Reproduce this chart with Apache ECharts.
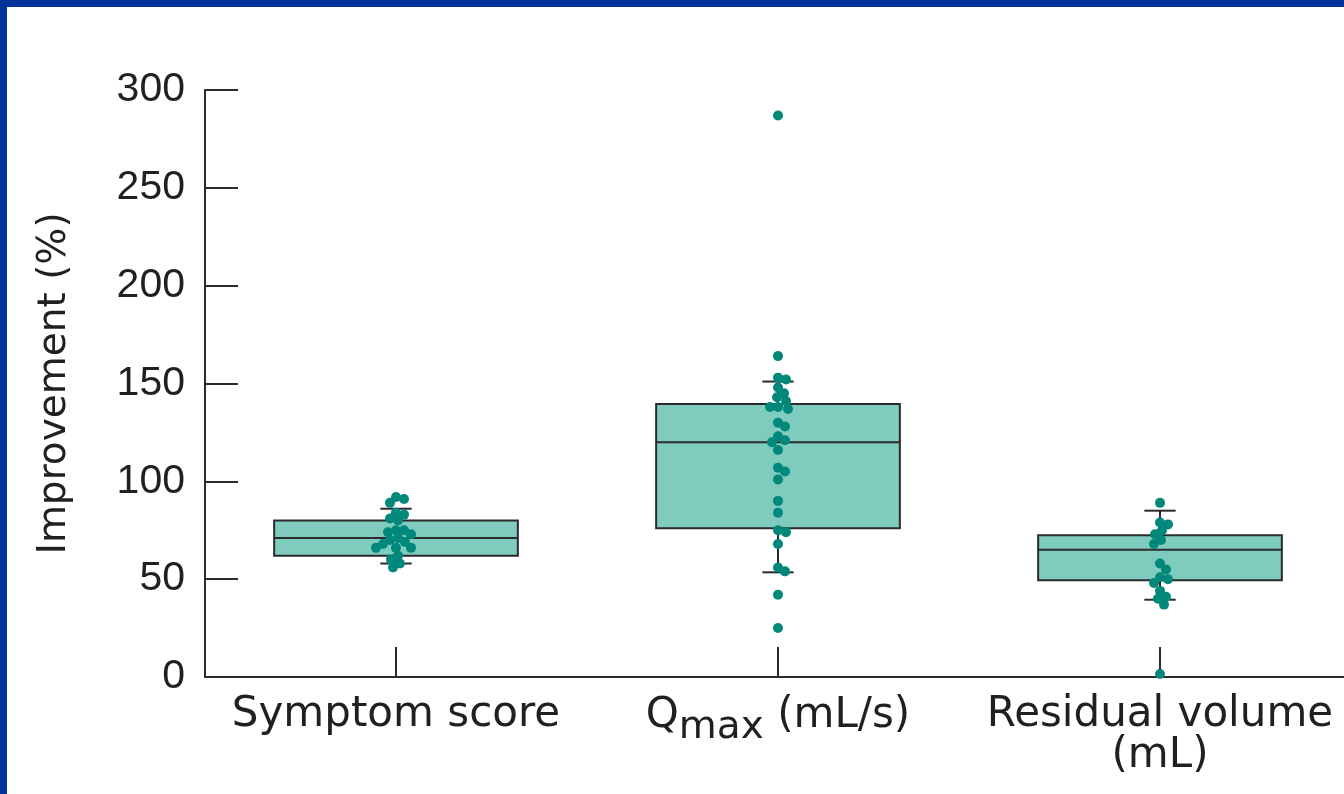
<!DOCTYPE html>
<html>
<head>
<meta charset="utf-8">
<title>Improvement (%)</title>
<script src="https://cdn.jsdelivr.net/npm/echarts@6/dist/echarts.min.js"></script>
<style>
  html, body { margin: 0; padding: 0; background: #ffffff; overflow: hidden; }
  /* the plot runs slightly past the right edge of the window */
  #chart { width: 1351px; height: 794px; }
</style>
</head>
<body>
<div id="chart"></div>
<script>
// Outcome categories along the x axis
const categories = ['Symptom score', 'Qmax (mL/s)', 'Residual volume\n(mL)'];

// Y axis ticks
const yTicks = [0, 50, 100, 150, 200, 250, 300];

// Box summaries: [lower whisker, Q1, median, Q3, upper whisker]
const symptomBox = [58, 62, 71, 80, 86];
const qmaxBox = [53.5, 76, 120, 139.5, 151];
const residualBox = [39.5, 49.5, 65, 72.5, 85];

// Individual patient improvements (%)
const symptomPoints = [92, 91, 89, 84, 83, 81, 80, 75, 75, 74, 73, 71, 70, 69, 68, 66, 66, 66, 62, 60, 58, 56];
const qmaxPoints = [287, 164, 153, 152, 148, 145, 143, 141, 138, 138, 137, 130, 128, 123, 121, 120, 116, 107, 105, 101, 90, 84, 75, 74, 68, 56, 54, 42, 25];
const residualPoints = [89, 79, 78, 75, 73, 70, 68, 58, 55, 51, 50, 48, 44, 41, 40, 37, 1.5];

const boxes = [symptomBox, qmaxBox, residualBox];
const pointGroups = [symptomPoints, qmaxPoints, residualPoints];

const INK = '#2b2b2b';
const TEXT = '#231f20';
const BOX_FILL = '#7fcbbe';
const DOT = '#00897b';
const FRAME = '#003399';

const boxData = boxes.map((b, i) => [i].concat(b));
const dotData = [];
pointGroups.forEach((g, gi) => g.forEach((v, k) => dotData.push([gi, v, k])));

// Simple beeswarm: push overlapping dots sideways
function swarm(ys, d, step) {
  const placed = [];
  return ys.map(y => {
    let off = 0;
    outer:
    for (let k = 0; k < 200; k++) {
      const cands = k === 0 ? [0] : [k * step, -k * step];
      for (const c of cands) {
        if (placed.every(p => Math.hypot(p.x - c, p.y - y) >= d)) { off = c; break outer; }
      }
    }
    placed.push({ x: off, y: y });
    return off;
  });
}

const chart = echarts.init(document.getElementById('chart'), null, { renderer: 'canvas' });

function renderBox(params, api) {
  const cat = api.value(0);
  const band = api.size([1, 0])[0];
  const half = band * 0.319;
  const cap = band * 0.041;
  const lo = api.coord([cat, api.value(1)]);
  const q1 = api.coord([cat, api.value(2)]);
  const md = api.coord([cat, api.value(3)]);
  const q3 = api.coord([cat, api.value(4)]);
  const hi = api.coord([cat, api.value(5)]);
  const x = md[0];
  const ls = { stroke: INK, lineWidth: 2, fill: null };
  return {
    type: 'group',
    children: [
      { type: 'line', shape: { x1: x, y1: q3[1], x2: x, y2: hi[1] }, style: ls },
      { type: 'line', shape: { x1: x - cap, y1: hi[1], x2: x + cap, y2: hi[1] }, style: ls },
      { type: 'line', shape: { x1: x, y1: q1[1], x2: x, y2: lo[1] }, style: ls },
      { type: 'line', shape: { x1: x - cap, y1: lo[1], x2: x + cap, y2: lo[1] }, style: ls },
      { type: 'rect', shape: { x: x - half, y: q3[1], width: half * 2, height: q1[1] - q3[1] },
        style: { fill: BOX_FILL, stroke: INK, lineWidth: 2 } },
      { type: 'line', shape: { x1: x - half, y1: md[1], x2: x + half, y2: md[1] }, style: ls }
    ]
  };
}

function renderDot(params, api) {
  const cat = api.value(0);
  const k = api.value(2);
  const group = pointGroups[cat];
  const ys = group.map(v => api.coord([cat, v])[1]);
  const offs = swarm(ys, 8, 1);
  const c = api.coord([cat, api.value(1)]);
  return {
    type: 'circle',
    shape: { cx: c[0] + offs[k], cy: c[1], r: 5 },
    style: { fill: DOT }
  };
}

chart.setOption({
  backgroundColor: '#ffffff',
  animation: false,
  graphic: [
    { type: 'rect', left: 0, top: 0, shape: { width: 1351, height: 7 }, style: { fill: FRAME }, z: 100 },
    { type: 'rect', left: 0, top: 0, shape: { width: 7, height: 794 }, style: { fill: FRAME }, z: 100 }
  ],
  grid: { left: 205, top: 90, right: 0, bottom: 117, containLabel: false },
  xAxis: {
    type: 'category',
    data: categories,
    boundaryGap: true,
    axisLine: { show: true, lineStyle: { color: INK, width: 2 } },
    axisTick: { show: true, inside: true, length: 30, alignWithLabel: true, lineStyle: { color: INK, width: 2 } },
    axisLabel: {
      interval: 0,
      margin: 18,
      color: TEXT,
      fontFamily: 'DejaVu Sans',
      fontSize: 42,
      lineHeight: 41,
      formatter: function (v) {
        if (v.indexOf('Qmax') === 0) return '{a|Q}{s|max}{a| (mL/s)}';
        return v;
      },
      rich: {
        a: { fontFamily: 'DejaVu Sans', fontSize: 42, lineHeight: 41, color: TEXT, verticalAlign: 'top' },
        s: { fontFamily: 'DejaVu Sans', fontSize: 39, lineHeight: 41, color: TEXT, verticalAlign: 'top', padding: [13, 0, 0, 0] }
      }
    },
    splitLine: { show: false }
  },
  yAxis: {
    type: 'value',
    min: yTicks[0],
    max: yTicks[yTicks.length - 1],
    interval: 50,
    name: 'Improvement (%)',
    nameLocation: 'middle',
    nameRotate: 90,
    nameGap: 131,
    nameTextStyle: { fontFamily: 'DejaVu Sans', fontSize: 39, color: TEXT },
    axisLine: { show: true, lineStyle: { color: INK, width: 2 } },
    axisTick: { show: true, inside: true, length: 33, lineStyle: { color: INK, width: 2 } },
    axisLabel: { margin: 20, color: TEXT, fontFamily: 'Liberation Sans', fontSize: 41 },
    splitLine: { show: false }
  },
  series: [
    { type: 'custom', name: 'box', data: boxData, renderItem: renderBox, z: 2, silent: true },
    { type: 'custom', name: 'patients', data: dotData, renderItem: renderDot, z: 3, silent: true }
  ]
});
</script>
</body>
</html>
